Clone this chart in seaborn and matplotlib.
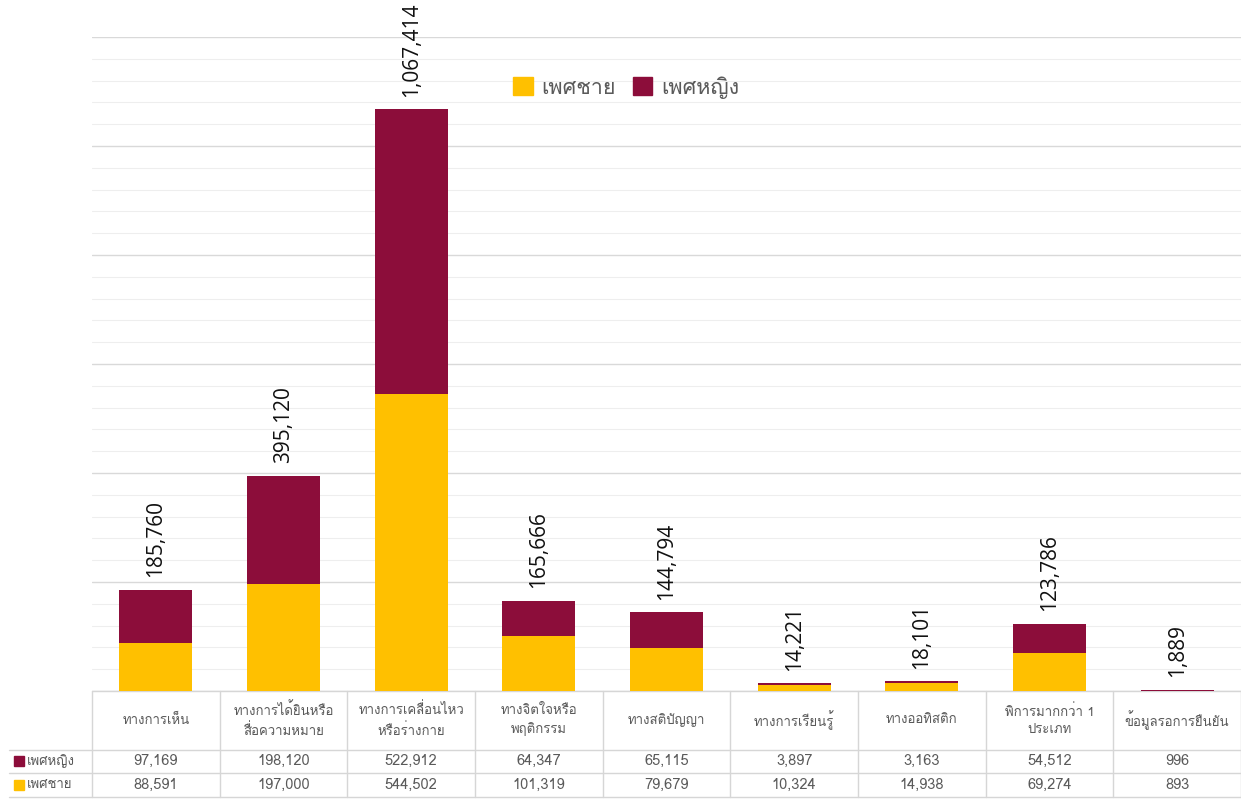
import matplotlib
matplotlib.use("Agg")
import matplotlib.pyplot as plt
from matplotlib import font_manager, ft2font
from matplotlib.lines import Line2D
from matplotlib.patches import Patch
import pandas as pd
import seaborn as sns

categories = ["ทางการเห็น", "ทางการได้ยินหรือ\nสื่อความหมาย", "ทางการเคลื่อนไหว\nหรือร่างกาย",
              "ทางจิตใจหรือ\nพฤติกรรม", "ทางสติปัญญา", "ทางการเรียนรู้", "ทางออทิสติก",
              "พิการมากกว่า 1\nประเภท", "ข้อมูลรอการยืนยัน"]
female = [97169, 198120, 522912, 64347, 65115, 3897, 3163, 54512, 996]
male = [88591, 197000, 544502, 101319, 79679, 10324, 14938, 69274, 893]
series_names = ["เพศชาย", "เพศหญิง"]

YELLOW = "#FFC000"
CRIMSON = "#8C0D3A"
GRAY = "#5A5A5A"


def thai_family():
    # find an installed family that actually has Thai glyphs
    for f in font_manager.fontManager.ttflist:
        try:
            if 0x0E01 in ft2font.FT2Font(f.fname).get_charmap():
                return f.name
        except Exception:
            pass
    return "DejaVu Sans"


sns.set_theme(style="white")
thai = thai_family()
plt.rcParams["font.family"] = [thai, "DejaVu Sans"]

df = pd.DataFrame({"cat": categories, "female": female, "male": male})
df["total"] = df["female"] + df["male"]

W, H = 1241, 801
fig = plt.figure(figsize=(W / 100, H / 100), dpi=100)
ax = fig.add_axes([92 / W, 1 - 691 / H, 1 - 92 / W, (691 - 37) / H])

sns.barplot(data=df, x="cat", y="total", color=CRIMSON, width=0.57, saturation=1,
            linewidth=0, edgecolor="none", ax=ax, zorder=3)
sns.barplot(data=df, x="cat", y="male", color=YELLOW, width=0.57, saturation=1,
            linewidth=0, edgecolor="none", ax=ax, zorder=3)

ax.set_xlim(-0.5, len(categories) - 0.5)
ax.set_ylim(0, 1200000)
ax.set_yticks(range(0, 1200001, 200000))
ax.set_yticks(range(0, 1200001, 40000), minor=True)
ax.grid(axis="y", which="major", color="#D9D9D9", lw=1, zorder=0)
ax.grid(axis="y", which="minor", color="#EEEEEE", lw=0.8, zorder=0)
ax.tick_params(left=False, bottom=False, labelleft=False, labelbottom=False)
ax.set_xlabel("")
ax.set_ylabel("")
for s in ax.spines.values():
    s.set_visible(False)

for i, t in enumerate(df["total"]):
    ax.annotate(f"{t:,}", (i, t), xytext=(0, 9), textcoords="offset points",
                rotation=90, ha="center", va="bottom", fontsize=15,
                family="Open Sans", color="#111111")

handles = [Patch(color=YELLOW), Patch(color=CRIMSON)]
ax.legend(handles, series_names, loc="upper center", bbox_to_anchor=(0.465, 0.97), ncol=2,
          frameon=False, fontsize=15.5, handlelength=0.9, handleheight=0.9,
          handletextpad=0.4, columnspacing=0.8, labelcolor=GRAY)

# data table under the chart
tr = ax.get_xaxis_transform()
ph = 691 - 37


def ay(py):
    return (691 - py) / ph


n = len(categories)
line_kw = dict(color="#D6D6D6", lw=1, transform=tr, clip_on=False)
for i in range(n + 1):
    ax.add_line(Line2D([i - 0.5, i - 0.5], [ay(691), ay(797)], **line_kw))
for py in (750, 773, 797):
    ax.add_line(Line2D([-1.15, n - 0.5], [ay(py), ay(py)], **line_kw))
ax.add_line(Line2D([-0.5, n - 0.5], [ay(691), ay(691)], **line_kw))

for i, c in enumerate(categories):
    ax.text(i, ay(720), c, transform=tr, ha="center", va="center", fontsize=9.5,
            color=GRAY, linespacing=1.5, clip_on=False)
    ax.text(i, ay(761), f"{female[i]:,}", transform=tr, ha="center", va="center",
            fontsize=10.5, color=GRAY, clip_on=False)
    ax.text(i, ay(785), f"{male[i]:,}", transform=tr, ha="center", va="center",
            fontsize=10.5, color=GRAY, clip_on=False)

for py, col, name in ((761, CRIMSON, series_names[1]), (785, YELLOW, series_names[0])):
    fig.patches.append(plt.Rectangle((14 / W, 1 - (py + 5) / H), 10 / W, 10 / H,
                                     color=col, transform=fig.transFigure))
    fig.text(27 / W, 1 - py / H, name, ha="left", va="center", fontsize=9.5, color=GRAY)

fig.savefig("out.png", dpi=100)
